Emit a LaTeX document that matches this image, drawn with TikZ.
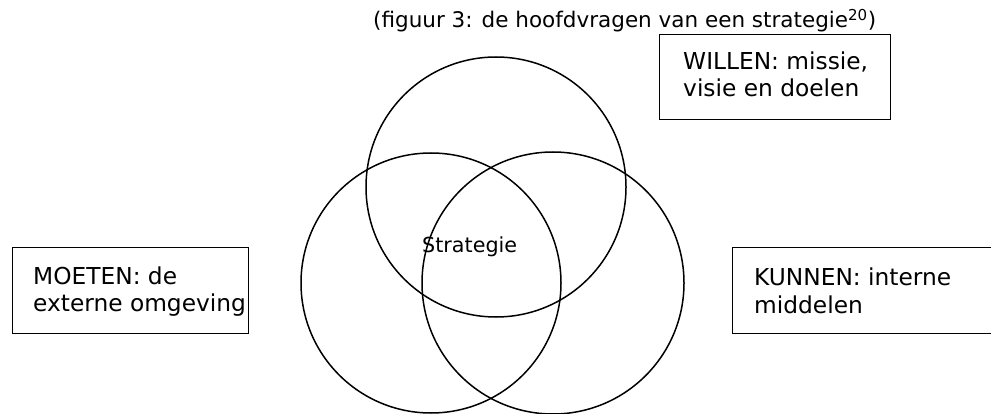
\documentclass[tikz,border=0pt]{standalone}
\usepackage{fontspec}
\setmainfont{DejaVu Sans}
\usetikzlibrary{calc}
\begin{document}
\begin{tikzpicture}[x=1pt,y=-1pt,
  ring/.style={draw=black,line width=1.5pt,circle,inner sep=0pt},
  box/.style={draw=black,line width=1pt,rectangle,inner sep=0pt,anchor=north west},
  boxtext/.style={anchor=base west,inner sep=0pt,align=left,font=\fontsize{23.3}{27.5}\selectfont},
  lbl/.style={anchor=base west,inner sep=0pt}]
\useasboundingbox (0,0) rectangle (991,414);
\clip (0,0) rectangle (991,414);
% circles
\node[ring,minimum size=260pt] (willenc) at (496,187) {};
\node[ring,minimum size=260pt] (moetenc) at (431,283) {};
\node[ring,minimum size=262pt] (kunnenc) at (553,283) {};
\node[lbl,font=\fontsize{20.7}{24}\selectfont] (strat) at (422,253) {Strategie};
% title
\node[lbl,font=\fontsize{21.5}{24}\selectfont] (title) at (373,28) {(figuur 3: de hoofdvragen van een strategie\textsuperscript{20})};
% boxes
\node[box,minimum width=231pt,minimum height=85pt] (willen) at (659,34) {};
\node[boxtext] (willent) at ($(willen.north west)+(24,63)$) {WILLEN: missie,\\visie en doelen};
\node[box,minimum width=236pt,minimum height=86pt] (moeten) at (12,247) {};
\node[boxtext] (moetent) at ($(moeten.north west)+(21,65)$) {MOETEN: de\\externe omgeving};
\node[box,minimum width=275pt,minimum height=86pt] (kunnen) at (732,247) {};
\node[boxtext] (kunnent) at ($(kunnen.north west)+(22,66)$) {KUNNEN: interne\\middelen};
\end{tikzpicture}
\end{document}
